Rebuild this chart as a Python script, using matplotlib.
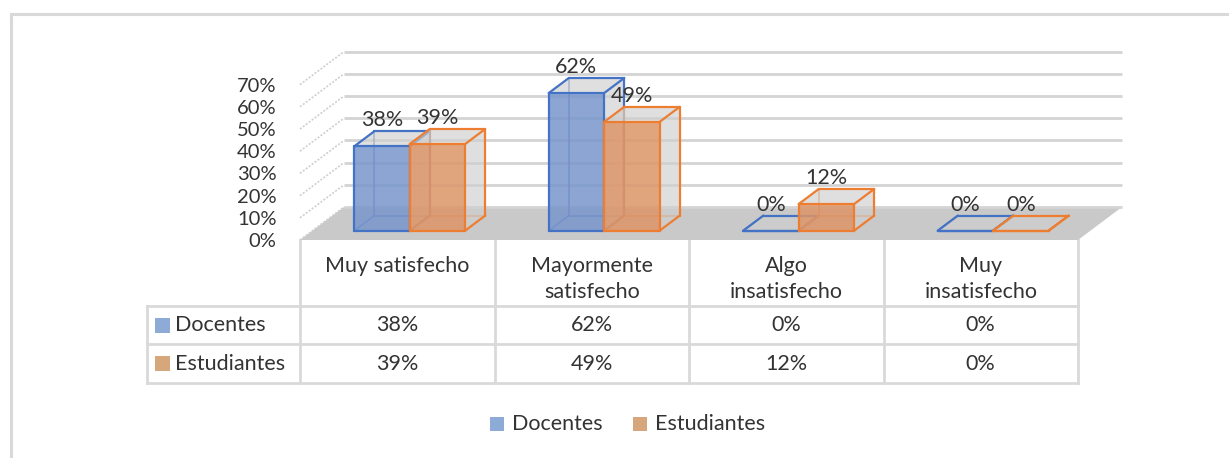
import matplotlib.pyplot as plt
from matplotlib.patches import Polygon, Rectangle

# Datos
categorias = ["Muy satisfecho", "Mayormente\nsatisfecho", "Algo\ninsatisfecho", "Muy\ninsatisfecho"]
series = ["Docentes", "Estudiantes"]
docentes = [38, 62, 0, 0]
estudiantes = [39, 49, 12, 0]
ticks_y = [0, 10, 20, 30, 40, 50, 60, 70]

valores = [docentes, estudiantes]
bordes = ["#4472c4", "#ed7d31"]
frentes = ["#7896cc", "#dc9568"]
cuadros = ["#8eaad6", "#d7a77c"]
texto = "#333333"
linea = "#d9d9d9"

W, H = 1229, 458
plt.rcParams["font.family"] = ["Lato", "DejaVu Sans"]
fig = plt.figure(figsize=(W / 100, H / 100), dpi=100)

# capa de maquetación (borde, tabla, leyenda) en píxeles
lay = fig.add_axes([0, 0, 1, 1], zorder=0)
lay.set_xlim(0, W)
lay.set_ylim(H, 0)
lay.axis("off")

# ejes del gráfico 3D simulado
PX_X = 194.5   # px por categoría
PX_Y = 2.22    # px por punto porcentual
x0_px, y0_px = 300, 240
ax = fig.add_axes([x0_px / W, 1 - y0_px / H, 4 * PX_X / W, 80 * PX_Y / H], zorder=1)
ax.set_xlim(0, 4)
ax.set_ylim(0, 80)
ax.patch.set_alpha(0)
for s in ax.spines.values():
    s.set_visible(False)
ax.set_xticks([])
ax.set_yticks(ticks_y, labels=[f"{t}%" for t in ticks_y])
ax.tick_params(axis="y", length=0, pad=17, labelsize=14.5, labelcolor=texto)

DX = 44 / PX_X
DV = 33 / PX_Y


def proj(x, v, z):
    return (x + z * DX, v + z * DV)


# suelo
suelo = Polygon([proj(0, 0, 0), proj(4, 0, 0), proj(4, 0, 1), proj(0, 0, 1)],
                closed=True, fc="#c9c9c9", ec="none", zorder=1, clip_on=False)
ax.add_patch(suelo)

# pared del fondo y pared lateral
for t in ticks_y:
    a, b = proj(0, t, 1), proj(4, t, 1)
    ax.plot([a[0], b[0]], [a[1], b[1]], color="#d4d4d4", lw=2, zorder=2, clip_on=False,
            solid_capstyle="butt")
    c = proj(0, t, 0)
    ax.plot([c[0], a[0]], [c[1], a[1]], color="#cfcfcf", lw=1.2, dashes=(1.2, 1.0),
            zorder=2, clip_on=False)

# barras
ancho = 0.285
hueco = (1 - 2 * ancho) / 2
z0, z1 = 0.28, 0.74
for i in range(len(categorias)):
    for j in range(len(series)):
        v = valores[j][i]
        xa = i + hueco + j * ancho
        xb = xa + ancho
        zb = 10 + (i * 2 + j) * 4
        col = bordes[j]

        def seg(p, q, z, lw=1.4, alpha=1.0):
            ax.plot([p[0], q[0]], [p[1], q[1]], color=col, lw=lw, alpha=alpha,
                    zorder=z, clip_on=False, solid_capstyle="round")

        # aristas ocultas
        seg(proj(xa, 0, z1), proj(xb, 0, z1), zb, 1.2, 0.8)
        seg(proj(xa, 0, z1), proj(xa, v, z1), zb, 1.2, 0.8)
        seg(proj(xa, 0, z0), proj(xa, 0, z1), zb, 1.2, 0.8)

        # caras
        lado = Polygon([proj(xb, 0, z0), proj(xb, 0, z1), proj(xb, v, z1), proj(xb, v, z0)],
                       closed=True, fc="#cfcfcf", alpha=0.65, ec="none", zorder=zb + 1, clip_on=False)
        tapa = Polygon([proj(xa, v, z0), proj(xb, v, z0), proj(xb, v, z1), proj(xa, v, z1)],
                       closed=True, fc="#cfcfcf", alpha=0.65, ec="none", zorder=zb + 1, clip_on=False)
        frente = Polygon([proj(xa, 0, z0), proj(xb, 0, z0), proj(xb, v, z0), proj(xa, v, z0)],
                         closed=True, fc=frentes[j], alpha=0.85, ec="none", zorder=zb + 2, clip_on=False)
        ax.add_patch(lado)
        ax.add_patch(tapa)
        ax.add_patch(frente)

        # aristas visibles
        pts = [proj(xa, 0, z0), proj(xb, 0, z0), proj(xb, v, z0), proj(xa, v, z0), proj(xa, 0, z0)]
        for p, q in zip(pts[:-1], pts[1:]):
            seg(p, q, zb + 3, 1.6)
        seg(proj(xa, v, z0), proj(xa, v, z1), zb + 3, 1.6)
        seg(proj(xa, v, z1), proj(xb, v, z1), zb + 3, 1.6)
        seg(proj(xb, v, z1), proj(xb, v, z0), zb + 3, 1.6)
        seg(proj(xb, 0, z0), proj(xb, 0, z1), zb + 3, 1.6)
        seg(proj(xb, 0, z1), proj(xb, v, z1), zb + 3, 1.6)

        # etiqueta
        lx = proj((xa + xb) / 2, v, z0)[0]
        ly = proj(xa, v, z1)[1] + 11 / PX_Y
        ax.text(lx, ly, f"{v}%", ha="center", va="center", fontsize=15.5, color=texto,
                zorder=100, clip_on=False)

# borde exterior
lay.plot([11, W], [14, 14], color=linea, lw=2.2)
lay.plot([11, 11], [14, H], color=linea, lw=2.2)

# tabla de datos
cols = [x0_px + k * PX_X for k in range(len(categorias) + 1)]
y_top, y_h, y_r1, y_r2 = y0_px, 306, 344, 383
x_left = 147
lw_t = 2.0
lay.plot([cols[0], cols[-1]], [y_h, y_h], color=linea, lw=lw_t)
lay.plot([x_left, cols[0]], [y_h, y_h], color=linea, lw=lw_t)
for yy in [y_r1, y_r2]:
    lay.plot([x_left, cols[-1]], [yy, yy], color=linea, lw=lw_t)
for xx in cols:
    lay.plot([xx, xx], [y_top, y_r2], color=linea, lw=lw_t)
lay.plot([x_left, x_left], [y_h, y_r2], color=linea, lw=lw_t)

for k, cat in enumerate(categorias):
    cx = (cols[k] + cols[k + 1]) / 2
    for n, parte in enumerate(cat.split("\n")):
        lay.text(cx, 266 + 26 * n, parte, ha="center", va="center", fontsize=15.5, color=texto)

filas = [(y_h + y_r1) / 2, (y_r1 + y_r2) / 2]
for j, nombre in enumerate(series):
    yc = filas[j]
    lay.add_patch(Rectangle((155, yc - 7.5), 15, 15, fc=cuadros[j], ec="none"))
    lay.text(175, yc, nombre, ha="left", va="center", fontsize=15.5, color=texto)
    for k in range(len(categorias)):
        cx = (cols[k] + cols[k + 1]) / 2
        lay.text(cx, yc, f"{valores[j][k]}%", ha="center", va="center", fontsize=15.5, color=texto)

# leyenda
ley_x = [490, 633]
for j, nombre in enumerate(series):
    lay.add_patch(Rectangle((ley_x[j], 417), 14, 14, fc=cuadros[j], ec="none"))
    lay.text(ley_x[j] + 22, 424, nombre, ha="left", va="center", fontsize=15.5, color=texto)

fig.savefig("out.png", dpi=100)
